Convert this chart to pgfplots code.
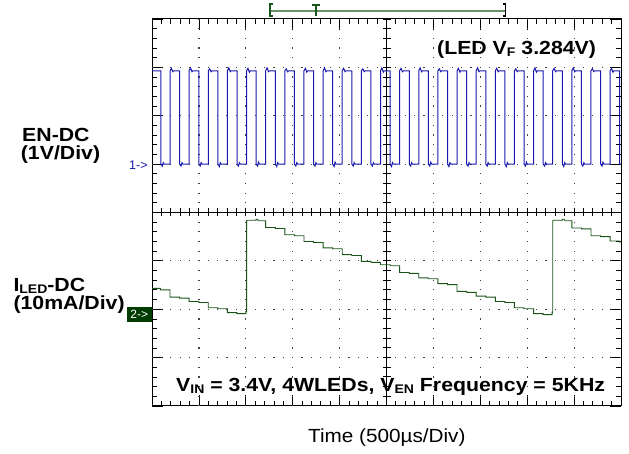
\documentclass[border=0pt]{standalone}
\usepackage{pgfplots}
\pgfplotsset{compat=1.18}
\usepackage{fontspec}
\setmainfont{Liberation Sans}
\definecolor{trblue}{RGB}{25,25,175}
\definecolor{trgreen}{RGB}{25,85,25}
\definecolor{boxgreen}{RGB}{0,60,0}
\definecolor{mkgreen}{RGB}{105,145,105}
\newcommand{\bigb}{\fontsize{19}{22}\selectfont\bfseries\addfontfeature{FakeStretch=1.12}}
\newcommand{\sub}[1]{\raisebox{-0.08em}{\fontsize{12.5}{13}\selectfont\bfseries #1}}
\begin{document}
\begin{tikzpicture}
\path[use as bounding box] (0pt,0pt) rectangle (629pt,454pt);
\begin{axis}[
  at={(152pt,48pt)}, anchor=south west,
  scale only axis, width=469pt, height=387pt,
  xmin=0, xmax=10, ymin=-4, ymax=4,
  xtick={0,...,10}, ytick={-4,...,4},
  xticklabels={}, yticklabels={},
  minor x tick num=4, minor y tick num=4,
  tick align=inside,
  major tick length=11pt, minor tick length=5pt,
  tick style={black, line width=0.8pt},
  axis line style={black, line width=1pt},
]
% dotted graticule
\pgfplotsinvokeforeach{1,2,3,4,6,7,8,9}{
  \draw[black!75, line width=1.2pt, dash pattern=on 1.2pt off 8.475pt, dash phase=0.6pt] (axis cs:#1,-4) -- (axis cs:#1,4);
}
\pgfplotsinvokeforeach{-3,-2,-1,1,2,3}{
  \draw[black!75, line width=1.2pt, dash pattern=on 1.2pt off 8.18pt, dash phase=0.6pt] (axis cs:0,#1) -- (axis cs:10,#1);
}
% center cross with ticks
\draw[black, line width=1pt] (axis cs:0,0) -- (axis cs:10,0);
\draw[black, line width=8pt, dash pattern=on 1pt off 8.38pt, dash phase=0.5pt] (axis cs:0,0) -- (axis cs:10,0);
\draw[black, line width=1pt] (axis cs:5,-4) -- (axis cs:5,4);
\draw[black, line width=8pt, dash pattern=on 1pt off 8.675pt, dash phase=0.5pt] (axis cs:5,-4) -- (axis cs:5,4);
% channel 1 (EN)
\addplot[trblue, line width=1pt, line join=miter] coordinates {
(0,2.93)(0.189,2.93)(0.189,1)(0.22,0.96)(0.24,1.03)(0.26,1)
(0.384,1)(0.384,2.93)(0.414,2.98)(0.444,2.91)(0.464,2.93)(0.589,2.93)(0.589,1)(0.619,0.96)(0.639,1.03)(0.659,1)
(0.792,1)(0.792,2.93)(0.822,2.99)(0.852,2.91)(0.872,2.93)(0.997,2.93)(0.997,1)(1.027,0.96)(1.047,1.03)(1.067,1)
(1.200,1)(1.200,2.93)(1.230,2.97)(1.260,2.91)(1.280,2.93)(1.405,2.93)(1.405,1)(1.435,0.95)(1.455,1.03)(1.475,1)
(1.608,1)(1.608,2.93)(1.638,2.99)(1.668,2.91)(1.688,2.93)(1.813,2.93)(1.813,1)(1.843,0.96)(1.863,1.03)(1.883,1)
(2.016,1)(2.016,2.93)(2.046,2.98)(2.076,2.90)(2.096,2.93)(2.221,2.93)(2.221,1)(2.251,0.96)(2.271,1.04)(2.291,1)
(2.424,1)(2.424,2.93)(2.454,2.99)(2.484,2.91)(2.504,2.93)(2.629,2.93)(2.629,1)(2.659,0.95)(2.679,1.03)(2.699,1)
(2.832,1)(2.832,2.93)(2.862,2.97)(2.892,2.91)(2.912,2.93)(3.037,2.93)(3.037,1)(3.067,0.96)(3.087,1.03)(3.107,1)
(3.240,1)(3.240,2.93)(3.270,2.98)(3.300,2.90)(3.320,2.93)(3.445,2.93)(3.445,1)(3.475,0.96)(3.495,1.03)(3.515,1)
(3.648,1)(3.648,2.93)(3.678,2.99)(3.708,2.91)(3.728,2.93)(3.853,2.93)(3.853,1)(3.883,0.95)(3.903,1.04)(3.923,1)
(4.056,1)(4.056,2.93)(4.086,2.98)(4.116,2.91)(4.136,2.93)(4.261,2.93)(4.261,1)(4.291,0.96)(4.311,1.03)(4.331,1)
(4.464,1)(4.464,2.93)(4.494,2.97)(4.524,2.91)(4.544,2.93)(4.669,2.93)(4.669,1)(4.699,0.96)(4.719,1.03)(4.739,1)
(4.872,1)(4.872,2.93)(4.902,2.99)(4.932,2.90)(4.952,2.93)(5.077,2.93)(5.077,1)(5.107,0.95)(5.127,1.03)(5.147,1)
(5.280,1)(5.280,2.93)(5.310,2.98)(5.340,2.91)(5.360,2.93)(5.485,2.93)(5.485,1)(5.515,0.96)(5.535,1.03)(5.555,1)
(5.688,1)(5.688,2.93)(5.718,2.99)(5.748,2.91)(5.768,2.93)(5.893,2.93)(5.893,1)(5.923,0.96)(5.943,1.04)(5.963,1)
(6.096,1)(6.096,2.93)(6.126,2.97)(6.156,2.91)(6.176,2.93)(6.301,2.93)(6.301,1)(6.331,0.95)(6.351,1.03)(6.371,1)
(6.504,1)(6.504,2.93)(6.534,2.98)(6.564,2.90)(6.584,2.93)(6.709,2.93)(6.709,1)(6.739,0.96)(6.759,1.03)(6.779,1)
(6.912,1)(6.912,2.93)(6.942,2.99)(6.972,2.91)(6.992,2.93)(7.117,2.93)(7.117,1)(7.147,0.96)(7.167,1.03)(7.187,1)
(7.320,1)(7.320,2.93)(7.350,2.98)(7.380,2.91)(7.400,2.93)(7.525,2.93)(7.525,1)(7.555,0.95)(7.575,1.03)(7.595,1)
(7.728,1)(7.728,2.93)(7.758,2.97)(7.788,2.91)(7.808,2.93)(7.933,2.93)(7.933,1)(7.963,0.96)(7.983,1.04)(8.003,1)
(8.136,1)(8.136,2.93)(8.166,2.99)(8.196,2.90)(8.216,2.93)(8.341,2.93)(8.341,1)(8.371,0.96)(8.391,1.03)(8.411,1)
(8.544,1)(8.544,2.93)(8.574,2.98)(8.604,2.91)(8.624,2.93)(8.749,2.93)(8.749,1)(8.779,0.95)(8.799,1.03)(8.819,1)
(8.952,1)(8.952,2.93)(8.982,2.99)(9.012,2.91)(9.032,2.93)(9.157,2.93)(9.157,1)(9.187,0.96)(9.207,1.03)(9.227,1)
(9.360,1)(9.360,2.93)(9.390,2.97)(9.420,2.91)(9.440,2.93)(9.565,2.93)(9.565,1)(9.595,0.96)(9.615,1.04)(9.635,1)
(9.768,1)(9.768,2.93)(9.798,2.98)(9.828,2.90)(9.848,2.93)(9.973,2.93)(9.973,1)(10,1)
};
% channel 2 (ILED)
\addplot[trgreen, line width=0.9pt, line join=miter] coordinates {
(0,-1.57)(0.18,-1.57)(0.18,-1.60)(0.384,-1.60)
(0.384,-1.75)(0.59,-1.75)(0.59,-1.77)(0.792,-1.77)
(0.792,-1.84)(1.0,-1.84)(1.0,-1.86)(1.2,-1.86)
(1.2,-1.97)(1.405,-1.97)(1.405,-1.99)(1.608,-1.99)
(1.608,-2.07)(1.81,-2.07)(1.81,-2.09)(2.0,-2.09)(2.0,-2.05)(2.016,-2.05)
(2.016,-0.17)(2.03,-0.16)(2.22,-0.16)(2.22,-0.14)(2.26,-0.14)(2.26,-0.17)(2.424,-0.17)
(2.424,-0.31)(2.63,-0.31)(2.63,-0.33)(2.832,-0.33)
(2.832,-0.46)(3.04,-0.46)(3.04,-0.48)(3.24,-0.48)
(3.24,-0.60)(3.445,-0.60)(3.445,-0.62)(3.648,-0.62)
(3.648,-0.73)(3.85,-0.73)(3.85,-0.75)(4.056,-0.75)
(4.056,-0.87)(4.26,-0.87)(4.26,-0.89)(4.464,-0.89)
(4.464,-1.01)(4.67,-1.01)(4.67,-1.03)(4.872,-1.03)
(4.872,-1.08)(5.08,-1.08)(5.08,-1.10)(5.28,-1.10)
(5.28,-1.24)(5.485,-1.24)(5.485,-1.26)(5.688,-1.26)
(5.688,-1.35)(5.89,-1.35)(5.89,-1.37)(6.096,-1.37)
(6.096,-1.47)(6.30,-1.47)(6.30,-1.49)(6.504,-1.49)
(6.504,-1.63)(6.71,-1.63)(6.71,-1.65)(6.912,-1.65)
(6.912,-1.73)(7.12,-1.73)(7.12,-1.75)(7.32,-1.75)
(7.32,-1.84)(7.525,-1.84)(7.525,-1.86)(7.728,-1.86)
(7.728,-1.97)(7.93,-1.97)(7.93,-1.99)(8.136,-1.99)
(8.136,-2.09)(8.34,-2.09)(8.34,-2.11)(8.53,-2.11)(8.53,-2.06)(8.544,-2.06)
(8.544,-0.17)(8.56,-0.16)(8.75,-0.16)(8.75,-0.14)(8.80,-0.14)(8.80,-0.17)(8.952,-0.17)
(8.952,-0.32)(9.16,-0.32)(9.16,-0.34)(9.36,-0.34)
(9.36,-0.48)(9.565,-0.48)(9.565,-0.50)(9.768,-0.50)
(9.768,-0.59)(9.97,-0.59)(9.97,-0.61)(10,-0.61)
};
\end{axis}
% trigger/time marker bar above the graticule
\draw[mkgreen, line width=2pt] (270pt,443.3pt) -- (505pt,443.3pt);
\draw[trgreen, line width=1.2pt] (272.5pt,450pt) -- (270pt,450pt) -- (270pt,438pt) -- (272.5pt,438pt);
\draw[trgreen, line width=1.2pt] (312pt,449pt) -- (320pt,449pt) (316pt,449pt) -- (316pt,438pt);
\draw[black, line width=1.3pt] (503pt,450pt) -- (505.5pt,450pt) -- (505.5pt,438pt) -- (503pt,438pt);
% channel markers
\node[anchor=west, inner sep=0pt, text=trblue] at (129pt,289pt) {\fontsize{12.5}{13}\selectfont 1->};
\fill[boxgreen] (126.7pt,132.3pt) rectangle (151.7pt,147.3pt);
\node[anchor=center, inner sep=0pt, text=white] at (139.2pt,139.8pt) {\fontsize{12}{13}\selectfont 2->};
% texts
\node[anchor=base west, inner sep=0pt] at (437pt,399pt) {\bigb (LED V\sub{F} 3.284V)};
\node[anchor=base west, inner sep=0pt] at (176pt,62.3pt) {\bigb V\sub{IN} = 3.4V, 4WLEDs, V\sub{EN} Frequency = 5KHz};
\node[anchor=base west, inner sep=0pt] at (22pt,312.3pt) {\bigb EN-DC};
\node[anchor=base west, inner sep=0pt] at (20.7pt,294pt) {\bigb (1V/Div)};
\node[anchor=base west, inner sep=0pt] at (13.3pt,162.3pt) {\bigb I\sub{LED}-DC};
\node[anchor=base west, inner sep=0pt] at (13.3pt,144pt) {\bigb (10mA/Div)};
\node[anchor=base west, inner sep=0pt] at (308pt,11pt) {\fontsize{19}{22}\selectfont\addfontfeature{FakeStretch=1.09}Time (500µs/Div)};
\end{tikzpicture}
\end{document}
